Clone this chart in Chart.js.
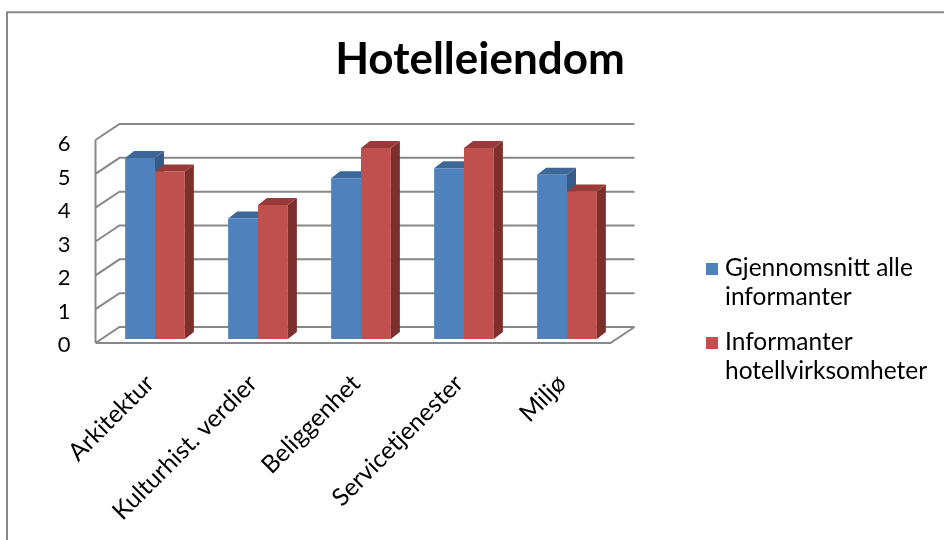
<!DOCTYPE html>
<html>
<head>
<meta charset="utf-8">
<script src="https://cdn.jsdelivr.net/npm/chart.js@4.4.0/dist/chart.umd.min.js"></script>
<style>
  html, body { margin: 0; padding: 0; background: #fff; }
  #wrap { position: relative; width: 944px; height: 540px; }
</style>
</head>
<body>
<div id="wrap"><canvas id="grafico" width="944" height="540"></canvas></div>
<script>
// Verdier lest av figuren
const kategorier = ['Arkitektur', 'Kulturhist. verdier', 'Beliggenhet', 'Servicetjenester', 'Miljø'];
const gjennomsnittAlle = [5.4, 3.6, 4.8, 5.1, 4.9];
const hotellInformanter = [5.0, 4.0, 5.7, 5.7, 4.4];
const serieNavn = ['Gjennomsnitt alle informanter', 'Informanter hotellvirksomheter'];
const forklaringLinjer = [['Gjennomsnitt alle', 'informanter'], ['Informanter', 'hotellvirksomheter']];
const yTicks = [0, 1, 2, 3, 4, 5, 6];
const tittel = 'Hotelleiendom';

const farger = [
    { front: '#4F81BD', topp: '#3E6799', side: '#375C89' },
    { front: '#C0504D', topp: '#983A37', side: '#7D2F2D' }
];
const skrift = 'Lato, "Open Sans", sans-serif';

// 3D-ramme: bakvegg, venstre vegg og gulv, tegnet ut fra skalaene
const vegger = {
    id: 'vegger',
    beforeDatasetsDraw(chart) {
        const ctx = chart.ctx;
        const y = chart.scales.y;
        const a = chart.chartArea;
        const bak = v => y.getPixelForValue(v) - 12 - v / 3;
        const foran = v => y.getPixelForValue(v) + 4 - v / 3;
        ctx.save();
        ctx.strokeStyle = '#888888';
        ctx.lineWidth = 2;
        ctx.beginPath();
        yTicks.forEach(v => {
            ctx.moveTo(a.left - 8, foran(v));
            ctx.lineTo(a.left + 16, bak(v));
            ctx.lineTo(a.right + 16, bak(v));
        });
        // venstre forkant
        ctx.moveTo(a.left - 8, foran(0));
        ctx.lineTo(a.left - 8, foran(yTicks[yTicks.length - 1]));
        // gulvets forkant
        ctx.moveTo(a.left - 8, foran(0));
        ctx.lineTo(a.right - 8, foran(0));
        ctx.lineTo(a.right + 16, bak(0));
        ctx.stroke();
        ctx.restore();
    }
};

// topp og side på hver stolpe
const stolper3d = {
    id: 'stolper3d',
    beforeDatasetsDraw(chart) {
        const ctx = chart.ctx;
        const dx = 9, dy = -7;
        ctx.save();
        chart.data.datasets.forEach((ds, i) => {
            chart.getDatasetMeta(i).data.forEach(bar => {
                const { x, y, base, width } = bar.getProps(['x', 'y', 'base', 'width'], true);
                const l = x - width / 2, r = x + width / 2;
                ctx.fillStyle = farger[i].side;
                ctx.beginPath();
                ctx.moveTo(r, y); ctx.lineTo(r + dx, y + dy);
                ctx.lineTo(r + dx, base + dy); ctx.lineTo(r, base);
                ctx.closePath(); ctx.fill();
                ctx.fillStyle = farger[i].topp;
                ctx.beginPath();
                ctx.moveTo(l, y); ctx.lineTo(l + dx, y + dy);
                ctx.lineTo(r + dx, y + dy); ctx.lineTo(r, y);
                ctx.closePath(); ctx.fill();
            });
        });
        ctx.restore();
    }
};

// tittel, forklaring og ytre ramme
const tekster = {
    id: 'tekster',
    afterDraw(chart) {
        const ctx = chart.ctx;
        ctx.save();
        ctx.strokeStyle = '#888888';
        ctx.lineWidth = 2;
        ctx.beginPath();
        ctx.moveTo(7, 540); ctx.lineTo(7, 12.3); ctx.lineTo(944, 12.3);
        ctx.stroke();

        ctx.fillStyle = '#000';
        ctx.font = 'bold 44px ' + skrift;
        ctx.textAlign = 'center';
        ctx.textBaseline = 'alphabetic';
        ctx.fillText(tittel, 480, 74);

        ctx.font = '24.5px ' + skrift;
        ctx.textAlign = 'left';
        const startY = [276, 350];
        forklaringLinjer.forEach((linjer, i) => {
            ctx.fillStyle = farger[i].front;
            ctx.fillRect(706, startY[i] - 13, 12, 12);
            ctx.fillStyle = '#000';
            linjer.forEach((t, j) => ctx.fillText(t, 725, startY[i] + j * 29));
        });
        ctx.restore();
    }
};

new Chart(document.getElementById('grafico'), {
    type: 'bar',
    data: {
        labels: kategorier,
        datasets: [
            { label: serieNavn[0], data: gjennomsnittAlle, backgroundColor: farger[0].front },
            { label: serieNavn[1], data: hotellInformanter, backgroundColor: farger[1].front }
        ]
    },
    options: {
        responsive: false,
        animation: false,
        datasets: { bar: { categoryPercentage: 0.58, barPercentage: 1.0 } },
        layout: { padding: { left: 0, right: 325.5, top: 138, bottom: 11 } },
        plugins: {
            legend: { display: false },
            title: { display: false },
            tooltip: { enabled: false }
        },
        scales: {
            x: {
                grid: { display: false, drawTicks: false },
                border: { display: false },
                ticks: {
                    minRotation: 45, maxRotation: 45, autoSkip: false,
                    color: '#000', padding: 30, labelOffset: -5,
                    font: { family: skrift, size: 24.5 }
                },
                afterFit: s => { s.height = 190; }
            },
            y: {
                min: 0, max: 6,
                grid: { display: false, drawTicks: false },
                border: { display: false },
                ticks: {
                    color: '#000', padding: 33, labelOffset: 6,
                    font: { family: skrift, size: 22 }
                },
                afterBuildTicks: s => { s.ticks = yTicks.map(v => ({ value: v })); },
                afterFit: s => { s.width = 103.5; }
            }
        }
    },
    plugins: [vegger, stolper3d, tekster]
});
</script>
</body>
</html>
